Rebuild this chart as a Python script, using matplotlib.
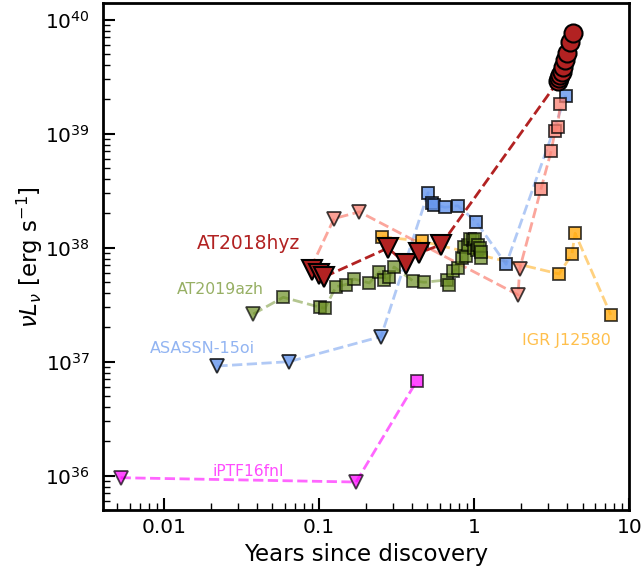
import matplotlib
matplotlib.use("Agg")
import matplotlib.pyplot as plt
from matplotlib.ticker import FixedLocator, FixedFormatter, LogLocator, NullFormatter

# ---------------- data (years since discovery, nuL_nu [erg/s]) ----------------
# AT2018hyz
hyz_lim_t = [0.0902, 0.100, 0.1077, 0.2786, 0.364, 0.4413, 0.612]
hyz_lim_L = [6.37e37, 5.88e37, 5.53e37, 9.93e37, 7.19e37, 8.99e37, 1.06e38]
hyz_det_t = [3.50, 3.55, 3.59, 3.68, 3.77, 3.87, 3.96, 4.16, 4.37]
hyz_det_L = [2.92e39, 3.06e39, 3.27e39, 3.50e39, 3.87e39, 4.43e39, 5.07e39, 6.41e39, 7.6e39]

# unlabelled comparison event (salmon)
sal_lim_t = [0.0887, 0.125, 0.1824, 1.923, 1.966]
sal_lim_L = [6.64e37, 1.80e38, 2.06e38, 3.85e37, 6.5e37]
sal_det_t = [2.70, 3.14, 3.33, 3.46, 3.59]
sal_det_L = [3.27e38, 7.05e38, 1.06e39, 1.15e39, 1.82e39]

# ASASSN-15oi
asn_lim_t = [0.0221, 0.064, 0.2512]
asn_lim_L = [9.16e36, 1.0e37, 1.66e37]
asn_det_t = [0.505, 0.532, 0.553, 0.647, 0.785, 1.03, 1.609, 3.905]
asn_det_L = [3.03e38, 2.45e38, 2.38e38, 2.26e38, 2.33e38, 1.69e38, 7.14e37, 2.16e39]

# AT2019azh
azh_lim_t = [0.0377]
azh_lim_L = [2.62e37]
azh_det_t = [0.0588, 0.1015, 0.1093, 0.1287, 0.1494, 0.1682, 0.2111, 0.2449, 0.2637,
             0.2841, 0.3047, 0.4022, 0.4757, 0.6646, 0.6899, 0.7318, 0.7885, 0.8307,
             0.8556, 0.8815, 0.9081, 0.9354, 0.978, 0.9927, 1.007, 1.038, 1.053,
             1.085, 1.101, 1.11]
azh_det_L = [3.67e37, 3.00e37, 2.94e37, 4.55e37, 4.75e37, 5.31e37, 4.90e37, 6.12e37, 5.21e37,
             5.48e37, 6.77e37, 5.13e37, 4.97e37, 5.21e37, 4.71e37, 6.25e37, 6.57e37, 8.04e37,
             1.01e38, 8.37e37, 1.056e38, 1.20e38, 1.17e38, 9.84e37, 1.20e38, 9.55e37, 1.056e38,
             9.84e37, 8.04e37, 9.08e37]

# IGR J12580
igr_det_t = [0.2538, 0.460, 3.535, 4.27, 4.48, 7.62]
igr_det_L = [1.249e38, 1.14e38, 5.88e37, 8.75e37, 1.337e38, 2.57e37]

# iPTF16fnl
ptf_lim_t = [0.005255, 0.1733]
ptf_lim_L = [9.6e35, 8.8e35]
ptf_det_t = [0.4269]
ptf_det_L = [6.77e36]

x_ticks = [0.01, 0.1, 1, 10]
x_ticklabels = ["0.01", "0.1", "1", "10"]

# ---------------- figure ----------------
fig = plt.figure(figsize=(6.44, 5.71), dpi=100)
ax = fig.add_axes([0.1595, 0.1068, 0.8175, 0.8874])
ax.set_xscale("log")
ax.set_yscale("log")


def series(lim_t, lim_L, det_t, det_L, color, malpha, lalpha, z):
    pts = sorted(list(zip(lim_t, lim_L)) + list(zip(det_t, det_L)))
    if len(pts) > 1:
        ax.plot([p[0] for p in pts], [p[1] for p in pts], ls="--", lw=2,
                color=color, alpha=lalpha, zorder=z)
    if lim_t:
        ax.plot(lim_t, lim_L, ls="none", marker="v", ms=9.5, mfc=color, mec="black",
                mew=1.3, alpha=malpha, zorder=z + 0.5)
    if det_t:
        ax.plot(det_t, det_L, ls="none", marker="s", ms=8, mfc=color, mec="black",
                mew=1.3, alpha=malpha, zorder=z + 0.5)


series(ptf_lim_t, ptf_lim_L, ptf_det_t, ptf_det_L, "magenta", 0.7, 0.6, 2)
series([], [], igr_det_t, igr_det_L, "orange", 0.75, 0.5, 3)
series(asn_lim_t, asn_lim_L, asn_det_t, asn_det_L, "cornflowerblue", 0.8, 0.5, 4)
series(sal_lim_t, sal_lim_L, sal_det_t, sal_det_L, "salmon", 0.75, 0.7, 5)
series(azh_lim_t, azh_lim_L, azh_det_t, azh_det_L, "olivedrab", 0.7, 0.5, 6)

# AT2018hyz (foreground)
hyz_pts = sorted(list(zip(hyz_lim_t, hyz_lim_L)) + list(zip(hyz_det_t, hyz_det_L)))
ax.plot([p[0] for p in hyz_pts], [p[1] for p in hyz_pts], ls="--", lw=2,
        color="firebrick", zorder=8)
ax.plot(hyz_lim_t, hyz_lim_L, ls="none", marker="v", ms=14, mfc="firebrick",
        mec="black", mew=1.5, zorder=9)
ax.plot(hyz_det_t, hyz_det_L, ls="none", marker="o", ms=13, mfc="firebrick",
        mec="black", mew=1.5, zorder=10)

# labels
ax.text(0.01625, 9.68e37, "AT2018hyz", color="firebrick", fontsize=13.5, va="baseline")
ax.text(0.01218, 3.93e37, "AT2019azh", color="olivedrab", alpha=0.7, fontsize=11.3, va="baseline")
ax.text(0.00812, 1.185e37, "ASASSN-15oi", color="cornflowerblue", alpha=0.7, fontsize=11.5, va="baseline")
ax.text(0.02062, 9.94e35, "iPTF16fnl", color="magenta", alpha=0.7, fontsize=11.2, va="baseline")
ax.text(2.03, 1.40e37, "IGR J12580", color="orange", alpha=0.7, fontsize=11.5, va="baseline")

ax.set_xlim(0.00403, 10)
ax.set_ylim(5.0e35, 1.39e40)

ax.xaxis.set_major_locator(FixedLocator(x_ticks))
ax.xaxis.set_major_formatter(FixedFormatter(x_ticklabels))
ax.xaxis.set_minor_locator(LogLocator(base=10, subs=range(2, 10), numticks=20))
ax.xaxis.set_minor_formatter(NullFormatter())
ax.yaxis.set_major_locator(LogLocator(base=10, numticks=20))
ax.yaxis.set_minor_locator(LogLocator(base=10, subs=range(2, 10), numticks=20))
ax.yaxis.set_minor_formatter(NullFormatter())

ax.tick_params(which="both", direction="in", top=False, right=False)
ax.tick_params(which="major", length=8.5, width=1.5, labelsize=14.5)
ax.tick_params(which="minor", length=5, width=1)
ax.tick_params(axis="x", which="major", pad=6)
ax.tick_params(axis="y", which="major", pad=9)
for s in ax.spines.values():
    s.set_linewidth(2)

ax.set_xlabel("Years since discovery", fontsize=16.5, labelpad=4)
ax.set_ylabel(r"$\nu L_\nu$ [erg s$^{-1}$]", fontsize=16.5, labelpad=0)

fig.savefig("out.png", dpi=100)
